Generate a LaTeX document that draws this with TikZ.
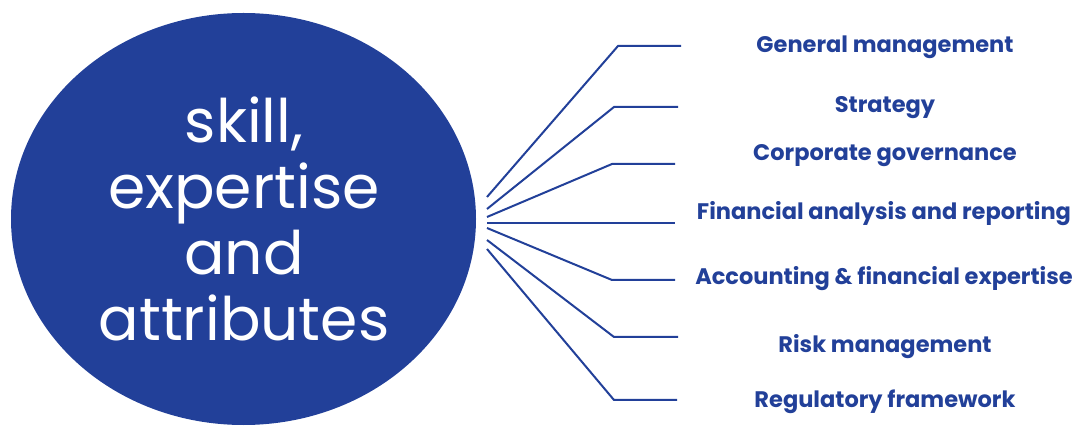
\documentclass[tikz,border=0pt]{standalone}
\usepackage{fontspec}
\setmainfont{Poppins}
\definecolor{navy}{RGB}{34,64,153}
\tikzset{
  conn/.style={draw=navy, line width=2pt},
  lbl/.style={text=navy, font=\bfseries\fontsize{22.5}{26}\selectfont, anchor=base, inner sep=0pt},
  bubble/.style={fill=navy, draw=none}
}
\begin{document}
\begin{tikzpicture}[x=1pt,y=1pt]
\useasboundingbox (0,0) rectangle (1077,426);
\fill[bubble] (243.5,207) ellipse [x radius=232.5, y radius=206];
\node[text=white, align=center, font=\fontsize{60}{66}\selectfont, inner sep=0pt] (main) at (244,207)
  {skill,\\expertise\\and\\attributes};
% start points
\coordinate (s1) at (487,229);
\coordinate (s2) at (487,217);
\coordinate (s3) at (487,209);
\coordinate (s4) at (487,203);
\coordinate (s5) at (487,198);
\coordinate (s6) at (487,186);
\coordinate (s7) at (487,177);
% bends
\coordinate (b1) at (618,380);
\coordinate (b2) at (614,319);
\coordinate (b3) at (612,262);
\coordinate (b5) at (612,146);
\coordinate (b6) at (614,89);
\coordinate (b7) at (614,26);
% ends
\coordinate (e1) at (681,380);
\coordinate (e2) at (678,319);
\coordinate (e3) at (675,262);
\coordinate (e4) at (675,203);
\coordinate (e5) at (675,146);
\coordinate (e6) at (678,89);
\coordinate (e7) at (677,26);
\draw[conn] (s1) -- (b1) -- (e1);
\draw[conn] (s2) -- (b2) -- (e2);
\draw[conn] (s3) -- (b3) -- (e3);
\draw[conn] (s4) -- (e4);
\draw[conn] (s5) -- (b5) -- (e5);
\draw[conn] (s6) -- (b6) -- (e6);
\draw[conn] (s7) -- (b7) -- (e7);
\node[lbl] (l1) at (885,373) {General management};
\node[lbl] (l2) at (885,313) {Strategy};
\node[lbl] (l3) at (885,265) {Corporate governance};
\node[lbl] (l4) at (884,206) {Financial analysis and reporting};
\node[lbl] (l5) at (884,141) {Accounting \& financial expertise};
\node[lbl] (l6) at (885,73) {Risk management};
\node[lbl] (l7) at (885,18) {Regulatory framework};
\end{tikzpicture}
\end{document}
